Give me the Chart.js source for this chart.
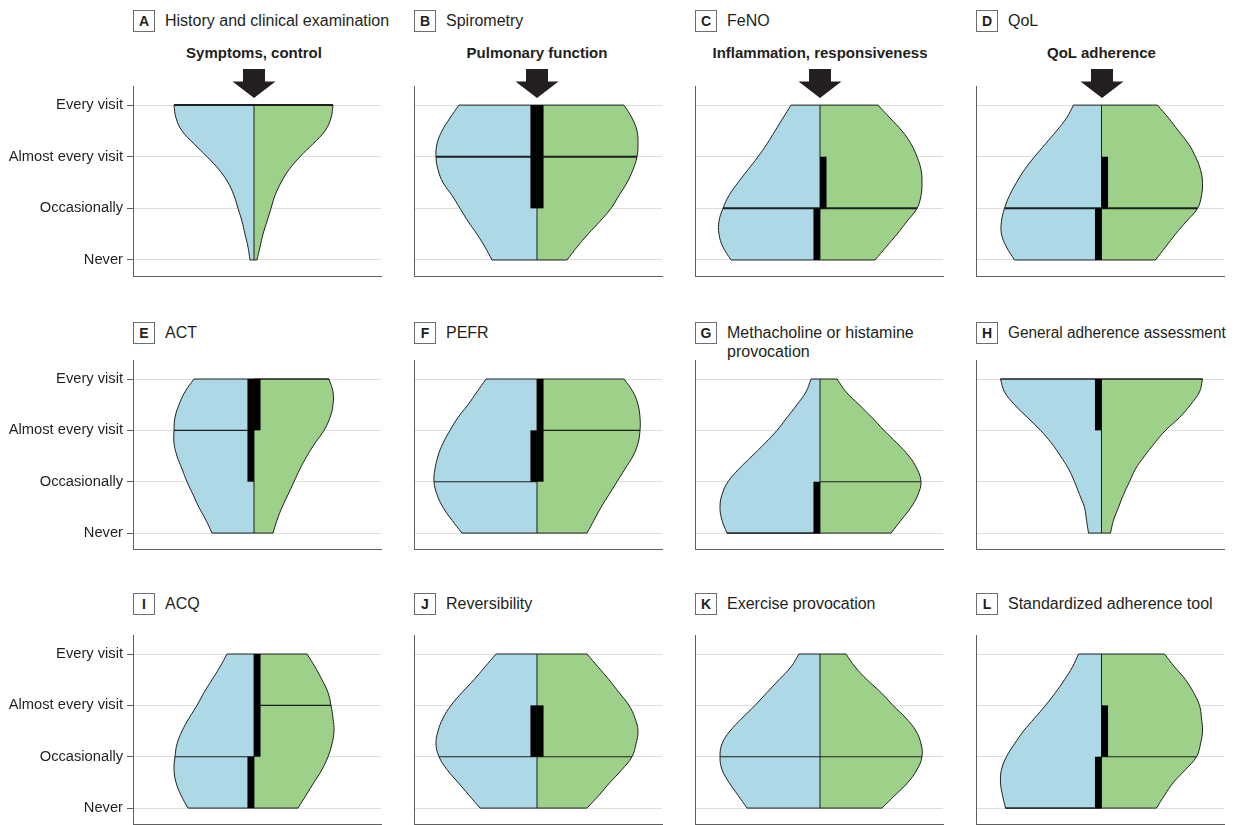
<!DOCTYPE html>
<html>
<head>
<meta charset="utf-8">
<script src="https://cdn.jsdelivr.net/npm/chart.js@4.4.1/dist/chart.umd.min.js"></script>
<style>
  html, body { margin: 0; padding: 0; background: #fff; }
  body { width: 1234px; height: 825px; overflow: hidden; position: relative;
         font-family: "Liberation Sans", Arial, sans-serif; color: #231f20; }
  canvas { position: absolute; }
  .tag { position: absolute; width: 22px; height: 22px; border: 1px solid #6d6e71; box-sizing: border-box;
         font-weight: bold; font-size: 14px; line-height: 20px; text-align: center; }
  .ttl { position: absolute; font-size: 16px; line-height: 20px; white-space: nowrap; transform-origin: 0 50%; }
  .head { position: absolute; font-weight: bold; font-size: 15px; line-height: 20px; white-space: nowrap;
          transform: translateX(-50%); }
  svg.arrow { position: absolute; overflow: visible; }
</style>
</head>
<body>
<script>
// Response scale (y axis), bottom to top
const levelLabels = ['Never', 'Occasionally', 'Almost every visit', 'Every visit'];
const levelValues = [0, 1, 2, 3];
// y positions at which the violin half-widths are sampled
const densityY = [0, 0.25, 0.5, 0.75, 1, 1.25, 1.5, 1.75, 2, 2.25, 2.5, 2.75, 3];

const panelLetters = ['A', 'B', 'C', 'D', 'E', 'F', 'G', 'H', 'I', 'J', 'K', 'L'];
const panelTitles = [
  'History and clinical examination', 'Spirometry', 'FeNO', 'QoL',
  'ACT', 'PEFR', 'Methacholine or histamine\nprovocation', 'General adherence assessment',
  'ACQ', 'Reversibility', 'Exercise provocation', 'Standardized adherence tool'
];
const columnHeadlines = ['Symptoms, control', 'Pulmonary function', 'Inflammation, responsiveness', 'QoL adherence'];

// Violin half-widths (density), Never -> Every visit; blue = left half, green = right half
const blueA  = [0.04, 0.06, 0.09, 0.12, 0.16, 0.20, 0.26, 0.35, 0.47, 0.60, 0.72, 0.78, 0.80];
const greenA = [0.03, 0.06, 0.09, 0.13, 0.17, 0.21, 0.27, 0.35, 0.46, 0.59, 0.71, 0.77, 0.79];
const blueB  = [0.45, 0.52, 0.60, 0.69, 0.77, 0.85, 0.94, 0.99, 1.01, 1.00, 0.95, 0.87, 0.78];
const greenB = [0.30, 0.40, 0.51, 0.63, 0.74, 0.82, 0.90, 0.96, 1.00, 1.01, 1.00, 0.95, 0.87];
const blueC  = [0.89, 0.97, 1.01, 1.01, 0.97, 0.91, 0.82, 0.72, 0.62, 0.53, 0.45, 0.37, 0.29];
const greenC = [0.55, 0.66, 0.77, 0.87, 0.97, 1.01, 1.02, 1.01, 0.97, 0.91, 0.82, 0.70, 0.58];
const blueD  = [0.87, 0.95, 1.00, 1.00, 0.97, 0.92, 0.85, 0.77, 0.67, 0.56, 0.45, 0.35, 0.28];
const greenD = [0.54, 0.64, 0.74, 0.85, 0.96, 1.00, 1.01, 0.99, 0.94, 0.87, 0.77, 0.67, 0.56];
const blueE  = [0.42, 0.48, 0.55, 0.61, 0.67, 0.72, 0.77, 0.80, 0.80, 0.79, 0.75, 0.69, 0.60];
const greenE = [0.19, 0.23, 0.28, 0.34, 0.40, 0.46, 0.53, 0.61, 0.70, 0.76, 0.79, 0.79, 0.75];
const blueF  = [0.75, 0.85, 0.94, 1.00, 1.03, 1.02, 0.99, 0.94, 0.87, 0.79, 0.69, 0.60, 0.51];
const greenF = [0.50, 0.57, 0.64, 0.72, 0.80, 0.88, 0.96, 1.01, 1.03, 1.03, 1.01, 0.96, 0.87];
const blueG  = [0.93, 0.98, 1.00, 0.98, 0.92, 0.81, 0.68, 0.55, 0.43, 0.33, 0.23, 0.14, 0.09];
const greenG = [0.71, 0.81, 0.91, 0.98, 1.01, 0.97, 0.89, 0.77, 0.64, 0.52, 0.39, 0.26, 0.17];
const blueH  = [0.13, 0.15, 0.17, 0.22, 0.27, 0.33, 0.41, 0.50, 0.61, 0.74, 0.87, 0.97, 1.01];
const greenH = [0.09, 0.12, 0.17, 0.22, 0.28, 0.34, 0.43, 0.53, 0.64, 0.78, 0.89, 0.98, 1.01];
const blueI  = [0.66, 0.73, 0.78, 0.80, 0.79, 0.77, 0.72, 0.65, 0.57, 0.50, 0.42, 0.34, 0.27];
const greenI = [0.44, 0.52, 0.60, 0.68, 0.74, 0.78, 0.80, 0.79, 0.77, 0.74, 0.68, 0.61, 0.53];
const blueJ  = [0.57, 0.68, 0.79, 0.90, 0.98, 1.01, 0.99, 0.94, 0.86, 0.75, 0.63, 0.52, 0.41];
const greenJ = [0.50, 0.62, 0.73, 0.85, 0.95, 0.99, 1.01, 0.98, 0.92, 0.82, 0.72, 0.61, 0.50];
const blueK  = [0.73, 0.82, 0.91, 0.98, 1.00, 0.98, 0.90, 0.78, 0.65, 0.53, 0.41, 0.29, 0.21];
const greenK = [0.62, 0.75, 0.88, 0.97, 1.02, 1.01, 0.96, 0.86, 0.73, 0.61, 0.47, 0.35, 0.26];
const blueL  = [0.96, 0.99, 1.01, 1.00, 0.95, 0.87, 0.78, 0.67, 0.56, 0.46, 0.37, 0.29, 0.23];
const greenL = [0.55, 0.63, 0.72, 0.84, 0.95, 0.99, 1.01, 1.00, 0.98, 0.92, 0.84, 0.73, 0.63];

// Medians and interquartile ranges per panel (A..L)
const medianBlue  = [3, 2, 1, 1, 2, 1, 0, 3, 1, 1, 1, 0];
const medianGreen = [3, 2, 1, 1, 3, 2, 1, 3, 2, 1, 1, 1];
const q1Blue  = [3, 1, 0, 0, 1, 1, 0, 2, 0, 1, 1, 0];
const q3Blue  = [3, 3, 1, 1, 3, 2, 1, 3, 1, 2, 1, 1];
const q1Green = [3, 1, 1, 1, 2, 1, 1, 3, 1, 1, 1, 1];
const q3Green = [3, 3, 2, 2, 3, 3, 1, 3, 3, 2, 1, 2];

const blueSides  = [blueA, blueB, blueC, blueD, blueE, blueF, blueG, blueH, blueI, blueJ, blueK, blueL];
const greenSides = [greenA, greenB, greenC, greenD, greenE, greenF, greenG, greenH, greenI, greenJ, greenK, greenL];

// ---- layout & style ----
const FONT = '"Liberation Sans", Arial, sans-serif';
const INK = '#1f1f1f';
const BLUE = '#add8e6';
const GREEN = '#9dd189';
const GRID = '#dddddd';
const AXIS = '#5f5f5f';
const colLeft = [133, 414, 695, 976];
const colShift = [-3, -1, 1, 1.5];   // centre line offset from the middle of each plot, px
const rowTop = [86, 360, 635];
const rowH = [190, 189, 189];
const tagTop = [10, 321.5, 592.5];
const plotW = 248;
const PX_PER_UNIT = 100;      // density axis: 1 unit = 100 px
const IQR_OFFSET = 0.033;     // IQR bar sits just beside the centre line
const IQR_WIDTH = 6.5;

Chart.defaults.font.family = FONT;

function seg(points, width, order, extra) {
  return Object.assign({
    data: points, borderColor: INK, borderWidth: width, pointRadius: 0,
    fill: false, tension: 0, order: order, borderCapStyle: 'butt'
  }, extra || {});
}

function violinPanel(i) {
  const col = i % 4, row = Math.floor(i / 4);
  const axisW = col === 0 ? 133 : 2;
  const padT = 4, padR = 4, padB = row === 2 ? 1 : 3;
  const canvas = document.createElement('canvas');
  canvas.width = axisW + plotW + padR;
  canvas.height = padT + rowH[row] + padB;
  canvas.style.left = (colLeft[col] - axisW) + 'px';
  canvas.style.top = (rowTop[row] - padT) + 'px';
  document.body.appendChild(canvas);

  const blue = blueSides[i], green = greenSides[i];
  const widthAt = (arr, level) => arr[densityY.indexOf(level)];
  const lo = levelValues[0], hi = levelValues[levelValues.length - 1];
  const medW = row === 0 ? 2 : 1.1;
  const xMin = -(plotW / 2 + colShift[col]) / PX_PER_UNIT;
  const xMax = (plotW / 2 - colShift[col]) / PX_PER_UNIT;

  const datasets = [
    { // left half
      data: densityY.map((y, k) => ({ x: -blue[k], y })),
      fill: 'origin', backgroundColor: BLUE, borderColor: INK, borderWidth: 1,
      tension: 0.4, pointRadius: 0, order: 6
    },
    { // right half
      data: densityY.map((y, k) => ({ x: green[k], y })),
      fill: 'origin', backgroundColor: GREEN, borderColor: INK, borderWidth: 1,
      tension: 0.4, pointRadius: 0, order: 6
    },
    seg([{ x: -blue[0], y: lo }, { x: green[0], y: lo }], 1, 5),
    seg([{ x: -blue[blue.length - 1], y: hi }, { x: green[green.length - 1], y: hi }], 1, 5),
    seg([{ x: 0, y: lo }, { x: 0, y: hi }], 1, 4),
    seg([{ x: -widthAt(blue, medianBlue[i]), y: medianBlue[i] }, { x: 0, y: medianBlue[i] }], medW, 3),
    seg([{ x: 0, y: medianGreen[i] }, { x: widthAt(green, medianGreen[i]), y: medianGreen[i] }], medW, 3)
  ];
  if (q3Blue[i] > q1Blue[i]) {
    datasets.push(seg([{ x: -IQR_OFFSET, y: q1Blue[i] }, { x: -IQR_OFFSET, y: q3Blue[i] }], IQR_WIDTH, 1, { borderColor: '#000' }));
  }
  if (q3Green[i] > q1Green[i]) {
    datasets.push(seg([{ x: IQR_OFFSET, y: q1Green[i] }, { x: IQR_OFFSET, y: q3Green[i] }], IQR_WIDTH, 1, { borderColor: '#000' }));
  }

  new Chart(canvas, {
    type: 'line',
    data: { datasets },
    options: {
      indexAxis: 'y',
      responsive: false,
      animation: false,
      devicePixelRatio: 1,
      events: [],
      layout: { padding: { top: padT, right: padR, bottom: padB, left: 0 } },
      plugins: { legend: { display: false }, tooltip: { enabled: false } },
      scales: {
        x: {
          type: 'linear', position: 'bottom', min: xMin, max: xMax,
          grid: { display: false, drawTicks: false },
          ticks: { display: false },
          border: { display: true, color: AXIS, width: 1 },
          afterFit: s => { s.height = 0; s.paddingLeft = 0; s.paddingRight = 0; }
        },
        y: {
          type: 'linear', position: 'left', min: -0.31, max: 3.37,
          afterBuildTicks: s => { s.ticks = levelValues.map(v => ({ value: v })); },
          grid: { color: GRID, lineWidth: 1, drawTicks: col === 0, tickLength: 6, tickColor: AXIS },
          border: { display: true, color: AXIS, width: 1 },
          ticks: {
            display: col === 0, padding: 4, color: '#231f20',
            font: { family: FONT, size: 14.7 },
            callback: v => levelLabels[v]
          },
          afterFit: s => { s.width = axisW; s.paddingTop = 0; s.paddingBottom = 0; }
        }
      }
    }
  });
}

function addDiv(cls, text, left, top) {
  const d = document.createElement('div');
  d.className = cls;
  d.textContent = text;
  d.style.left = left + 'px';
  d.style.top = top + 'px';
  document.body.appendChild(d);
  return d;
}

// panel letters and titles; long titles are narrowed to stay within the panel
const titleMaxW = plotW - 32 + 2;
panelLetters.forEach((letter, i) => {
  const col = i % 4, row = Math.floor(i / 4);
  addDiv('tag', letter, colLeft[col], tagTop[row]);
  const t = addDiv('ttl', '', colLeft[col] + 32, tagTop[row] + 1);
  t.innerHTML = panelTitles[i].split('\n').map(s => s.replace(/&/g, '&amp;').replace(/</g, '&lt;')).join('<br>');
  if (panelTitles[i].includes('\n')) t.style.lineHeight = '19.5px';
  const w = t.offsetWidth;
  if (w > titleMaxW + 8) t.style.transform = 'scaleX(' + (titleMaxW / w).toFixed(3) + ')';
});

// column headlines with arrows over the top row
columnHeadlines.forEach((txt, col) => {
  const cx = colLeft[col] + plotW / 2 + colShift[col];
  addDiv('head', txt, cx, 43);
  const svgNS = 'http://www.w3.org/2000/svg';
  const svg = document.createElementNS(svgNS, 'svg');
  svg.setAttribute('class', 'arrow');
  svg.setAttribute('width', '44');
  svg.setAttribute('height', '30');
  svg.style.left = (cx - 22) + 'px';
  svg.style.top = '69px';
  const p = document.createElementNS(svgNS, 'polygon');
  p.setAttribute('points', '11,0 33,0 33,12.5 43.5,12.5 22,29 0.5,12.5 11,12.5');
  p.setAttribute('fill', '#231f20');
  svg.appendChild(p);
  document.body.appendChild(svg);
});

for (let i = 0; i < 12; i++) violinPanel(i);
</script>
</body>
</html>
